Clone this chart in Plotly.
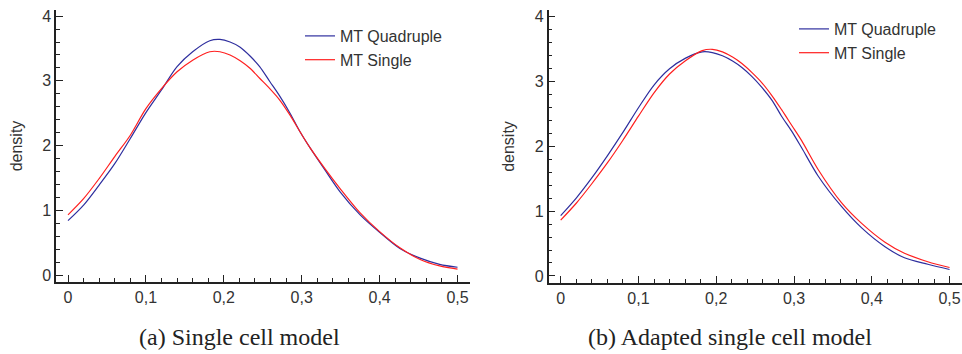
import plotly.graph_objects as go

# ---- data ----
x_a = [0, 0.02, 0.04, 0.06, 0.08, 0.10, 0.12, 0.14, 0.16, 0.182, 0.195, 0.208, 0.221, 0.234,
       0.246, 0.259, 0.272, 0.285, 0.298, 0.311, 0.33, 0.349, 0.375, 0.40, 0.426, 0.452,
       0.477, 0.5]
quad_a = [0.84, 1.08, 1.39, 1.72, 2.11, 2.51, 2.86, 3.22, 3.45, 3.62, 3.64, 3.60, 3.52, 3.38,
          3.22, 2.99, 2.76, 2.50, 2.21, 1.96, 1.62, 1.29, 0.93, 0.66, 0.41, 0.26, 0.165, 0.12]
single_a = [0.93, 1.18, 1.49, 1.83, 2.16, 2.57, 2.88, 3.14, 3.32, 3.45, 3.45, 3.40, 3.31, 3.19,
            3.04, 2.88, 2.70, 2.47, 2.21, 1.96, 1.64, 1.34, 0.96, 0.67, 0.42, 0.24, 0.14, 0.09]

x_b = [0, 0.02, 0.04, 0.06, 0.08, 0.10, 0.12, 0.14, 0.16, 0.182, 0.195, 0.208, 0.221, 0.233,
       0.246, 0.259, 0.272, 0.284, 0.297, 0.310, 0.331, 0.361, 0.387, 0.417, 0.442, 0.472, 0.5]
quad_b = [0.93, 1.20, 1.51, 1.85, 2.21, 2.59, 2.94, 3.19, 3.35, 3.45, 3.44, 3.39, 3.31, 3.21,
          3.07, 2.90, 2.70, 2.46, 2.23, 1.97, 1.54, 1.07, 0.74, 0.45, 0.28, 0.18, 0.10]
single_b = [0.86, 1.12, 1.42, 1.74, 2.09, 2.46, 2.82, 3.11, 3.31, 3.47, 3.49, 3.45, 3.37, 3.27,
            3.13, 2.97, 2.77, 2.56, 2.32, 2.08, 1.64, 1.13, 0.81, 0.52, 0.35, 0.22, 0.13]

series_names = ["MT Quadruple", "MT Single"]
x_ticks = [0, 0.1, 0.2, 0.3, 0.4, 0.5]
x_ticklabels = ["0", "0,1", "0,2", "0,3", "0,4", "0,5"]
y_ticks = [0, 1, 2, 3, 4]
captions = ["(a) Single cell model", "(b) Adapted single cell model"]
y_title = "density"

BLUE = "#2e2e9e"
RED = "#ff1f1f"
W, H = 962, 354

fig = go.Figure()
for (xs, q, s, xa, ya, lg) in [(x_a, quad_a, single_a, "x", "y", "legend"),
                               (x_b, quad_b, single_b, "x2", "y2", "legend2")]:
    fig.add_trace(go.Scatter(x=xs, y=q, mode="lines", name=series_names[0],
                             line=dict(color=BLUE, width=1.2, shape="spline", smoothing=0.9),
                             xaxis=xa, yaxis=ya, legend=lg))
    fig.add_trace(go.Scatter(x=xs, y=s, mode="lines", name=series_names[1],
                             line=dict(color=RED, width=1.2, shape="spline", smoothing=0.9),
                             xaxis=xa, yaxis=ya, legend=lg))

sans = "Liberation Sans, Arial, sans-serif"
tickfont = dict(family=sans, size=16, color="#333333")
common_x = dict(range=[-0.0154, 0.516], tickvals=x_ticks, ticktext=x_ticklabels,
                ticks="inside", ticklen=7, tickwidth=1.2, tickcolor="#222",
                minor=dict(dtick=0.02, ticks="inside", ticklen=4, tickcolor="#222", tickwidth=1),
                showline=True, linecolor="#222", linewidth=1.5, showgrid=False,
                zeroline=False, tickfont=tickfont, fixedrange=True, automargin=False)
common_y = dict(range=[-0.108, 4.095], tickvals=y_ticks,
                ticks="inside", ticklen=7, tickwidth=1.2, tickcolor="#222",
                minor=dict(dtick=0.2, ticks="inside", ticklen=4, tickcolor="#222", tickwidth=1),
                showline=True, linecolor="#222", linewidth=1.5, showgrid=False,
                zeroline=False, tickfont=tickfont, fixedrange=True, automargin=False,
                title=dict(text=y_title, font=dict(family=sans, size=16, color="#333333"),
                           standoff=16))

legfont = dict(family=sans, size=16, color="#333333")
fig.update_layout(
    width=W, height=H, margin=dict(l=0, r=0, t=0, b=0),
    paper_bgcolor="white", plot_bgcolor="white",
    xaxis=dict(domain=[56 / W, 470 / W], anchor="y", **common_x),
    yaxis=dict(domain=[1 - 282 / H, 1 - 10 / H], anchor="x", **common_y),
    xaxis2=dict(domain=[548.7 / W, 1.0], anchor="y2", **common_x),
    yaxis2=dict(domain=[1 - 283 / H, 1 - 10 / H], anchor="x2", **common_y),
    legend=dict(x=300 / W, y=1 - 19 / H, xanchor="left", yanchor="top",
                bgcolor="rgba(0,0,0,0)", font=legfont, tracegroupgap=0),
    legend2=dict(x=794 / W, y=1 - 12 / H, xanchor="left", yanchor="top",
                 bgcolor="rgba(0,0,0,0)", font=legfont, tracegroupgap=0),
    showlegend=True,
)

capfont = dict(family="Liberation Serif, Times New Roman, serif", size=24, color="#222")
fig.add_annotation(text=captions[0], x=239 / W, y=1 - 337 / H, xref="paper", yref="paper",
                   showarrow=False, font=capfont, xanchor="center", yanchor="middle")
fig.add_annotation(text=captions[1], x=730 / W, y=1 - 337 / H, xref="paper", yref="paper",
                   showarrow=False, font=capfont, xanchor="center", yanchor="middle")

fig.write_html("out.html", config={"displayModeBar": False},
               post_script="document.body.style.margin='0';document.body.style.overflow='hidden';")
